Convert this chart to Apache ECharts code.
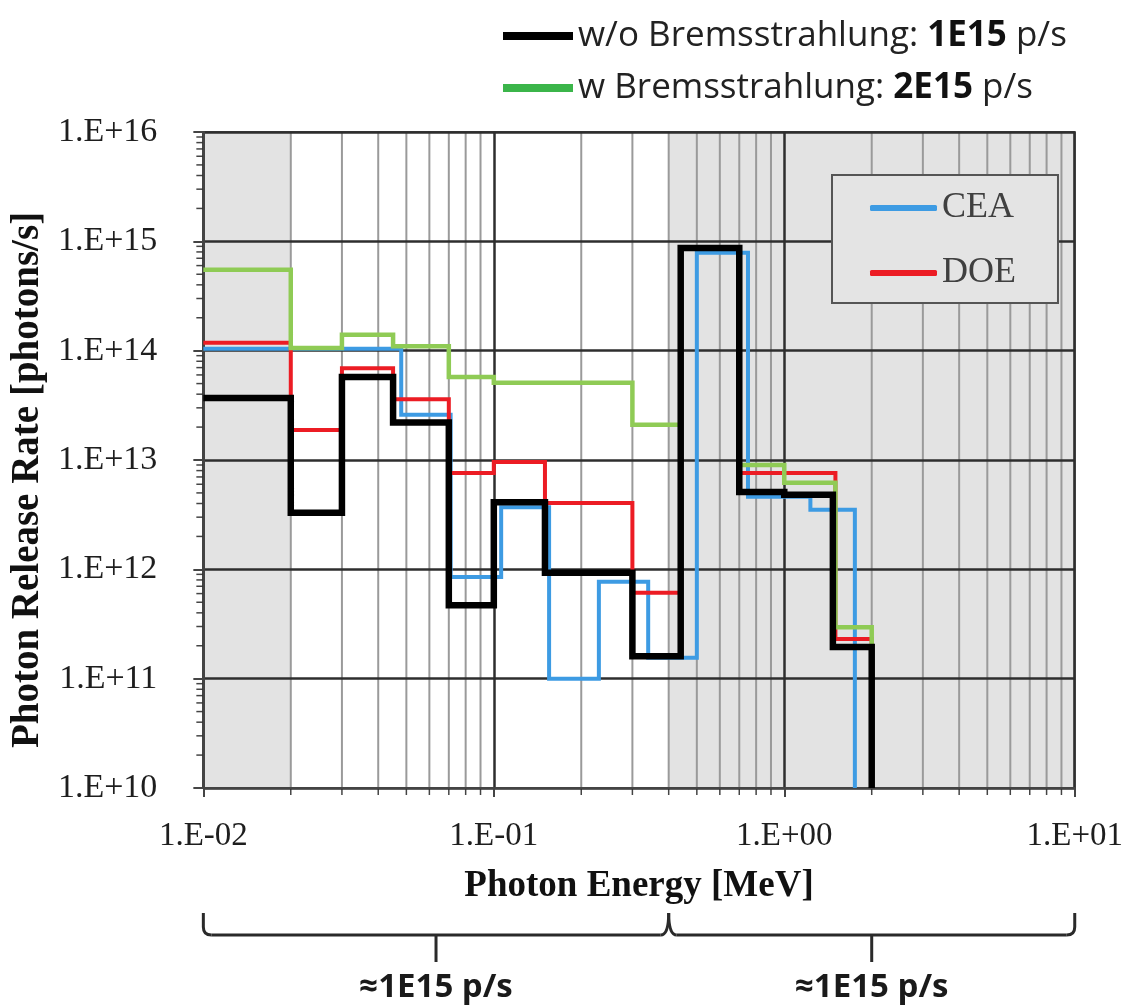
<!DOCTYPE html>
<html>
<head>
<meta charset="utf-8">
<script src="https://cdn.jsdelivr.net/npm/echarts@6/dist/echarts.min.js"></script>
<style>
html,body{margin:0;padding:0;background:#fff;}
#chart{width:1126px;height:1007px;}
</style>
</head>
<body>
<div id="chart"></div>
<script>
// ---------- data ----------
const xTickLabels = ['1.E-02', '1.E-01', '1.E+00', '1.E+01'];
const yTickLabels = ['1.E+10', '1.E+11', '1.E+12', '1.E+13', '1.E+14', '1.E+15', '1.E+16'];
const xMin = 0.01, xMax = 10;
const yMin = 1e10, yMax = 1e16;

const seriesNames = ['CEA', 'DOE', 'w Bremsstrahlung', 'w/o Bremsstrahlung'];
const legendTotals = { 'w/o Bremsstrahlung': '1E15', 'w Bremsstrahlung': '2E15' };

// bin edges (MeV) and step values (photons/s)
const ceaEdges = [0.01, 0.048, 0.071, 0.106, 0.155, 0.23, 0.34, 0.5, 0.75, 1.23, 1.75];
const ceaValues = [1.04e14, 2.6e13, 8.5e11, 3.7e12, 1.0e11, 7.7e11, 1.55e11, 7.85e14, 4.6e12, 3.5e12];

const doeEdges = [0.01, 0.02, 0.03, 0.045, 0.07, 0.1, 0.15, 0.3, 0.44, 0.7, 1.5, 2.0];
const doeValues = [1.18e14, 1.88e13, 6.9e13, 3.6e13, 7.6e12, 9.6e12, 4.05e12, 6.1e11, 8.7e14, 7.6e12, 2.3e11];

const bremsEdges = [0.01, 0.02, 0.03, 0.045, 0.07, 0.1, 0.3, 0.44, 0.7, 1.0, 1.5, 2.0];
const bremsValues = [5.5e14, 1.06e14, 1.4e14, 1.1e14, 5.75e13, 5.1e13, 2.1e13, 8.7e14, 9.0e12, 6.2e12, 2.95e11];

const noBremsEdges = [0.01, 0.02, 0.03, 0.045, 0.07, 0.1, 0.15, 0.3, 0.44, 0.7, 1.0, 1.47, 2.0];
const noBremsValues = [3.7e13, 3.3e12, 5.75e13, 2.2e13, 4.7e11, 4.1e12, 9.3e11, 1.6e11, 8.7e14, 5.1e12, 4.8e12, 1.95e11];

const floorValue = 1e10;

// shaded energy ranges
const shadedRanges = [[0.01, 0.02], [0.4, 10]];
// bracket annotation: edges of the two bracketed energy ranges and their labels
const bracketEdges = [0.01, 0.4, 10];
const bracketLabels = ['≈1E15 p/s', '≈1E15 p/s'];

// ---------- helpers ----------
function stepData(edges, values) {
  return edges.map((e, i) => [e, i < values.length ? values[i] : floorValue]);
}
function decadeMinors(lo, hi) {
  const out = [];
  for (let d = lo; d < hi; d *= 10) {
    for (let k = 2; k <= 9; k++) out.push(+(k * d).toPrecision(6));
  }
  return out;
}
const xMinorValues = decadeMinors(xMin, xMax);
const yMinorValues = decadeMinors(yMin, yMax);

const chart = echarts.init(document.getElementById('chart'), null, { renderer: 'canvas' });

const serif = 'Liberation Serif';
const sans = 'Open Sans';

function lineSeries(name, edges, values, color, width, z) {
  return {
    name: name,
    type: 'line',
    step: 'end',
    symbol: 'none',
    z: z,
    data: stepData(edges, values),
    lineStyle: { color: color, width: width, cap: 'butt', join: 'miter' },
    itemStyle: { color: color },
    emphasis: { disabled: true },
    clip: true
  };
}

const option = {
  animation: false,
  backgroundColor: '#ffffff',
  grid: {
    left: 202, right: 51, top: 132, bottom: 219,
    show: true, borderColor: '#444', borderWidth: 2, backgroundColor: 'transparent'
  },
  xAxis: {
    type: 'log', logBase: 10, min: xMin, max: xMax,
    axisLine: { show: true, lineStyle: { color: '#444', width: 2 } },
    axisTick: { show: true, length: 9, lineStyle: { color: '#444', width: 2 } },
    splitLine: { show: true, lineStyle: { color: '#2e2e2e', width: 2.5 } },
    minorTick: { show: false },
    axisLabel: {
      margin: 32, fontFamily: serif, fontSize: 33, color: '#1e1e1e',
      formatter: v => xTickLabels[Math.round(Math.log10(v)) - Math.round(Math.log10(xMin))],
      showMinLabel: true, showMaxLabel: true, hideOverlap: false
    },
    name: 'Photon Energy [MeV]', nameLocation: 'middle', nameGap: 80,
    nameTextStyle: { fontFamily: serif, fontWeight: 'bold', fontSize: 37, color: '#111' }
  },
  yAxis: {
    type: 'log', logBase: 10, min: yMin, max: yMax,
    axisLine: { show: true, lineStyle: { color: '#444', width: 2 } },
    axisTick: { show: true, length: 10, lineStyle: { color: '#444', width: 2 } },
    splitLine: { show: true, lineStyle: { color: '#2e2e2e', width: 2.5 } },
    minorTick: { show: false },
    axisLabel: {
      margin: 46, fontFamily: serif, fontSize: 34, color: '#1e1e1e',
      formatter: v => yTickLabels[Math.round(Math.log10(v)) - Math.round(Math.log10(yMin))],
      showMinLabel: true, showMaxLabel: true, hideOverlap: false
    },
    name: 'Photon Release Rate [photons/s]', nameLocation: 'middle', nameGap: 151,
    nameTextStyle: { fontFamily: serif, fontWeight: 'bold', fontSize: 39, color: '#111', padding: [0, 40, 0, 0] }
  },
  legend: [
    {
      data: [
        { name: 'w/o Bremsstrahlung', itemStyle: { color: '#000000' } },
        { name: 'w Bremsstrahlung', itemStyle: { color: '#3bb54a' } }
      ],
      orient: 'vertical', left: 503, top: 14, padding: 0, itemGap: 8,
      icon: 'rect', itemWidth: 70, itemHeight: 8, selectedMode: false,
      formatter: name => '{n|' + name + ': }{b|' + legendTotals[name] + '}{n| p/s}',
      textStyle: {
        fontFamily: sans, fontSize: 35, color: '#222', lineHeight: 44,
        rich: {
          n: { fontFamily: sans, fontSize: 35, color: '#222', lineHeight: 44 },
          b: { fontFamily: sans, fontSize: 35, fontWeight: 'bold', color: '#111', lineHeight: 44 }
        }
      }
    },
    {
      data: ['CEA', 'DOE'],
      orient: 'vertical', left: 832, top: 175,
      padding: [13, 42, 10, 38],
      backgroundColor: '#e4e4e4', borderColor: '#555', borderWidth: 2,
      itemGap: 25, icon: 'roundRect', itemWidth: 67, itemHeight: 6, selectedMode: false,
      textStyle: { fontFamily: serif, fontSize: 36, color: '#404040', lineHeight: 40 }
    }
  ],
  series: [
    {
      name: 'shade', type: 'custom', z: -2, silent: true,
      data: shadedRanges.map(r => [r[0], yMin, r[1], yMax]),
      encode: { x: [0, 2], y: [1, 3] },
      renderItem: function (params, api) {
        const p1 = api.coord([api.value(0), api.value(3)]);
        const p2 = api.coord([api.value(2), api.value(1)]);
        return { type: 'rect', shape: { x: p1[0], y: p1[1], width: p2[0] - p1[0], height: p2[1] - p1[1] },
                 style: { fill: '#e3e3e3' } };
      }
    },
    {
      name: 'xminor', type: 'custom', z: -1, silent: true,
      data: xMinorValues.map(v => [v, yMin]),
      encode: { x: 0, y: 1 },
      renderItem: function (params, api) {
        const pb = api.coord([api.value(0), yMin]);
        const pt = api.coord([api.value(0), yMax]);
        return { type: 'group', children: [
          { type: 'line', shape: { x1: pb[0], y1: pb[1], x2: pt[0], y2: pt[1] }, style: { stroke: '#9a9a9a', lineWidth: 2 } },
          { type: 'line', shape: { x1: pb[0], y1: pb[1], x2: pb[0], y2: pb[1] + 7 }, style: { stroke: '#444', lineWidth: 1.5 } }
        ] };
      }
    },
    {
      name: 'yminor', type: 'custom', z: -1, silent: true,
      data: yMinorValues.map(v => [xMin, v]),
      encode: { x: 0, y: 1 },
      renderItem: function (params, api) {
        const p = api.coord([xMin, api.value(1)]);
        return { type: 'line', shape: { x1: p[0] - 7, y1: p[1], x2: p[0], y2: p[1] }, style: { stroke: '#444', lineWidth: 1.5 } };
      }
    },
    lineSeries('CEA', ceaEdges, ceaValues, '#3d9be3', 4, 3),
    lineSeries('DOE', doeEdges, doeValues, '#ec1c24', 4, 4),
    lineSeries('w Bremsstrahlung', bremsEdges, bremsValues, '#8fcb55', 4.5, 5),
    lineSeries('w/o Bremsstrahlung', noBremsEdges, noBremsValues, '#000000', 6.5, 6)
  ]
};

chart.setOption(option);

// bracket annotation below the x axis, positioned through the x axis scale
const bx = bracketEdges.map(v => chart.convertToPixel({ xAxisIndex: 0 }, v));
const bmid = [
  chart.convertToPixel({ xAxisIndex: 0 }, Math.sqrt(bracketEdges[0] * bracketEdges[1])),
  chart.convertToPixel({ xAxisIndex: 0 }, Math.sqrt(bracketEdges[1] * bracketEdges[2]))
];
const yTop = 913, yBar = 935, yDown = 962, r = 8;
const stroke = { stroke: '#2a2a2a', lineWidth: 3, fill: null };
function curve(x1, y1, cx, cy, x2, y2) {
  return { type: 'bezierCurve', shape: { x1: x1, y1: y1, x2: x2, y2: y2, cpx1: cx, cpy1: cy }, style: stroke };
}
function seg(x1, y1, x2, y2) {
  return { type: 'line', shape: { x1: x1, y1: y1, x2: x2, y2: y2 }, style: stroke };
}
chart.setOption({
  graphic: [
    seg(bx[0], yTop, bx[0], yBar - r),
    curve(bx[0], yBar - r, bx[0], yBar, bx[0] + r, yBar),
    seg(bx[0] + r, yBar, bx[1] - r, yBar),
    curve(bx[1] - r, yBar, bx[1], yBar, bx[1], yTop),
    curve(bx[1], yTop, bx[1], yBar, bx[1] + r, yBar),
    seg(bx[1] + r, yBar, bx[2] - r, yBar),
    curve(bx[2] - r, yBar, bx[2], yBar, bx[2], yBar - r),
    seg(bx[2], yBar - r, bx[2], yTop),
    seg(bmid[0], yBar, bmid[0], yDown),
    seg(bmid[1], yBar, bmid[1], yDown),
    { type: 'text', x: bmid[0], y: 988, style: { text: bracketLabels[0], fontFamily: sans, fontWeight: 'bold', fontSize: 33, fill: '#1a1a1a', align: 'center', verticalAlign: 'middle' } },
    { type: 'text', x: bmid[1], y: 988, style: { text: bracketLabels[1], fontFamily: sans, fontWeight: 'bold', fontSize: 33, fill: '#1a1a1a', align: 'center', verticalAlign: 'middle' } }
  ]
});
</script>
</body>
</html>
